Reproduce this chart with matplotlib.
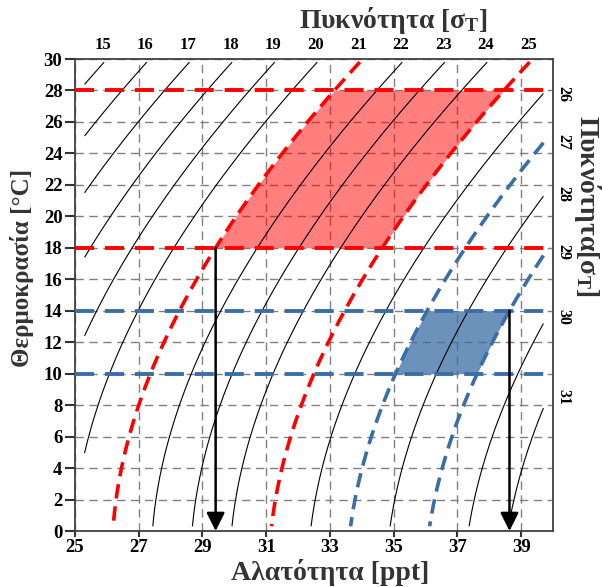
import numpy as np
import matplotlib
matplotlib.use('Agg')
import matplotlib.pyplot as plt

plt.rcParams['font.family'] = ['Liberation Serif', 'DejaVu Serif']
plt.rcParams['font.weight'] = 'bold'
plt.rcParams['mathtext.fontset'] = 'custom'
plt.rcParams['mathtext.rm'] = 'Liberation Serif:bold'
plt.rcParams['mathtext.it'] = 'Liberation Serif:bold'

# sigma-t levels drawn as isopycnals
levels = list(range(15, 32))
top_labels = list(range(15, 26))
right_labels = list(range(26, 32))

# water masses: (sigma_low, sigma_high, T_low, T_high)
warm_sigma = [21, 25]
warm_temp = [18, 28]
cold_sigma = [27, 29]
cold_temp = [10, 14]

x_ticks = [25, 27, 29, 31, 33, 35, 37, 39]
y_ticks = list(range(0, 31, 2))

RED = '#ff0000'
BLUE = '#3b6ea5'


# UNESCO 1983 equation of state at surface pressure
def sigma_t(S, T):
    rw = (999.842594 + 6.793952e-2 * T - 9.095290e-3 * T**2 + 1.001685e-4 * T**3
          - 1.120083e-6 * T**4 + 6.536332e-9 * T**5)
    A = (8.24493e-1 - 4.0899e-3 * T + 7.6438e-5 * T**2 - 8.2467e-7 * T**3
         + 5.3875e-9 * T**4)
    B = -5.72466e-3 + 1.0227e-4 * T - 1.6546e-6 * T**2
    C = 4.8314e-4
    return rw + A * S + B * S**1.5 + C * S**2 - 1000.0


s_fine = np.linspace(20, 45, 5001)


def salinity_at(sig, T):
    T = np.atleast_1d(T)
    out = np.array([np.interp(sig, sigma_t(s_fine, t), s_fine) for t in T])
    return out if out.size > 1 else out[0]


def temp_at(sig, S):
    t = np.linspace(-2, 35, 5001)
    return np.interp(sig, sigma_t(S, t)[::-1], t[::-1])


fig = plt.figure(figsize=(6.02, 5.87), dpi=100)
ax = fig.add_axes([75 / 602, 1 - 531 / 587, 478 / 602, 472 / 587])

S, T = np.meshgrid(np.linspace(25.3, 39.7, 300), np.linspace(0.3, 29.8, 300))
sig = sigma_t(S, T)

special = warm_sigma + cold_sigma
plain = [l for l in levels if l not in special]
ax.contour(S, T, sig, levels=plain, colors='black', linewidths=0.8, zorder=3)
ax.contour(S, T, sig, levels=warm_sigma, colors=RED, linewidths=2.6,
           linestyles=[(0, (4.0, 2.2))], zorder=4)
ax.contour(S, T, sig, levels=cold_sigma, colors=BLUE, linewidths=2.6,
           linestyles=[(0, (4.0, 2.2))], zorder=4)

# shaded water mass areas
tt = np.linspace(warm_temp[0], warm_temp[1], 100)
ax.fill_betweenx(tt, salinity_at(warm_sigma[0], tt), salinity_at(warm_sigma[1], tt),
                 color=RED, alpha=0.5, lw=0, zorder=2)
tt = np.linspace(cold_temp[0], cold_temp[1], 100)
ax.fill_betweenx(tt, salinity_at(cold_sigma[0], tt), salinity_at(cold_sigma[1], tt),
                 color=BLUE, alpha=0.75, lw=0, zorder=2)

for t in warm_temp:
    ax.axhline(t, color=RED, lw=2.8, ls=(0, (4.9, 2.8)), zorder=5)
for t in cold_temp:
    ax.axhline(t, color=BLUE, lw=2.8, ls=(0, (4.9, 2.8)), zorder=5)

# arrows down to the salinity axis
for s0, t0 in [(salinity_at(warm_sigma[0], warm_temp[0]), warm_temp[0]),
               (salinity_at(cold_sigma[1], cold_temp[1]), cold_temp[1])]:
    ax.annotate('', xy=(s0, 0), xytext=(s0, t0),
                arrowprops=dict(arrowstyle='-|>,head_length=0.5,head_width=0.25',
                                color='black', lw=1.8, mutation_scale=22,
                                shrinkA=0, shrinkB=0), zorder=6)

ax.set_xlim(25, 40)
ax.set_ylim(0, 30)
ax.set_xticks(x_ticks)
ax.set_yticks(y_ticks)
ax.grid(True, color='#808080', lw=1.0, ls=(0, (6, 4)), zorder=1)
ax.tick_params(axis='both', labelsize=13.5, width=1.5, color='#333333')
ax.tick_params(axis='y', length=7, pad=2)
ax.tick_params(axis='x', length=4, pad=2)
for sp in ax.spines.values():
    sp.set_color('#404040')
    sp.set_linewidth(1.3)

# density labels along the top and right edges
for lev in top_labels:
    ax.annotate(str(lev), xy=(salinity_at(lev, 30.0), 1),
                xycoords=('data', 'axes fraction'), xytext=(-3, 4),
                textcoords='offset points', ha='center', va='bottom',
                fontsize=12, fontweight='bold')
for lev in right_labels:
    ax.annotate(str(lev), xy=(1, temp_at(lev, 40.0)),
                xycoords=('axes fraction', 'data'), xytext=(2, -2),
                textcoords='offset points', ha='left', va='top',
                rotation=-90, fontsize=11.5, fontweight='bold')

lab = dict(fontweight='bold', color='#333333')
fig.text(330 / 602, 1 - 573 / 587, 'Αλατότητα [ppt]', ha='center', va='center',
         fontsize=20, **lab)
fig.text(22 / 602, 1 - 268 / 587, 'Θερμοκρασία [°C]', ha='center', va='center',
         rotation=90, fontsize=18, **lab)
fig.text(393 / 602, 1 - 20 / 587, 'Πυκνότητα [σ$_\\mathrm{T}$]', ha='center',
         va='center', fontsize=20, **lab)
fig.text(588 / 602, 1 - 206 / 587, 'Πυκνότητα[σ$_\\mathrm{T}$]', ha='center',
         va='center', rotation=-90, fontsize=20, **lab)

fig.savefig('out.png', dpi=100)
